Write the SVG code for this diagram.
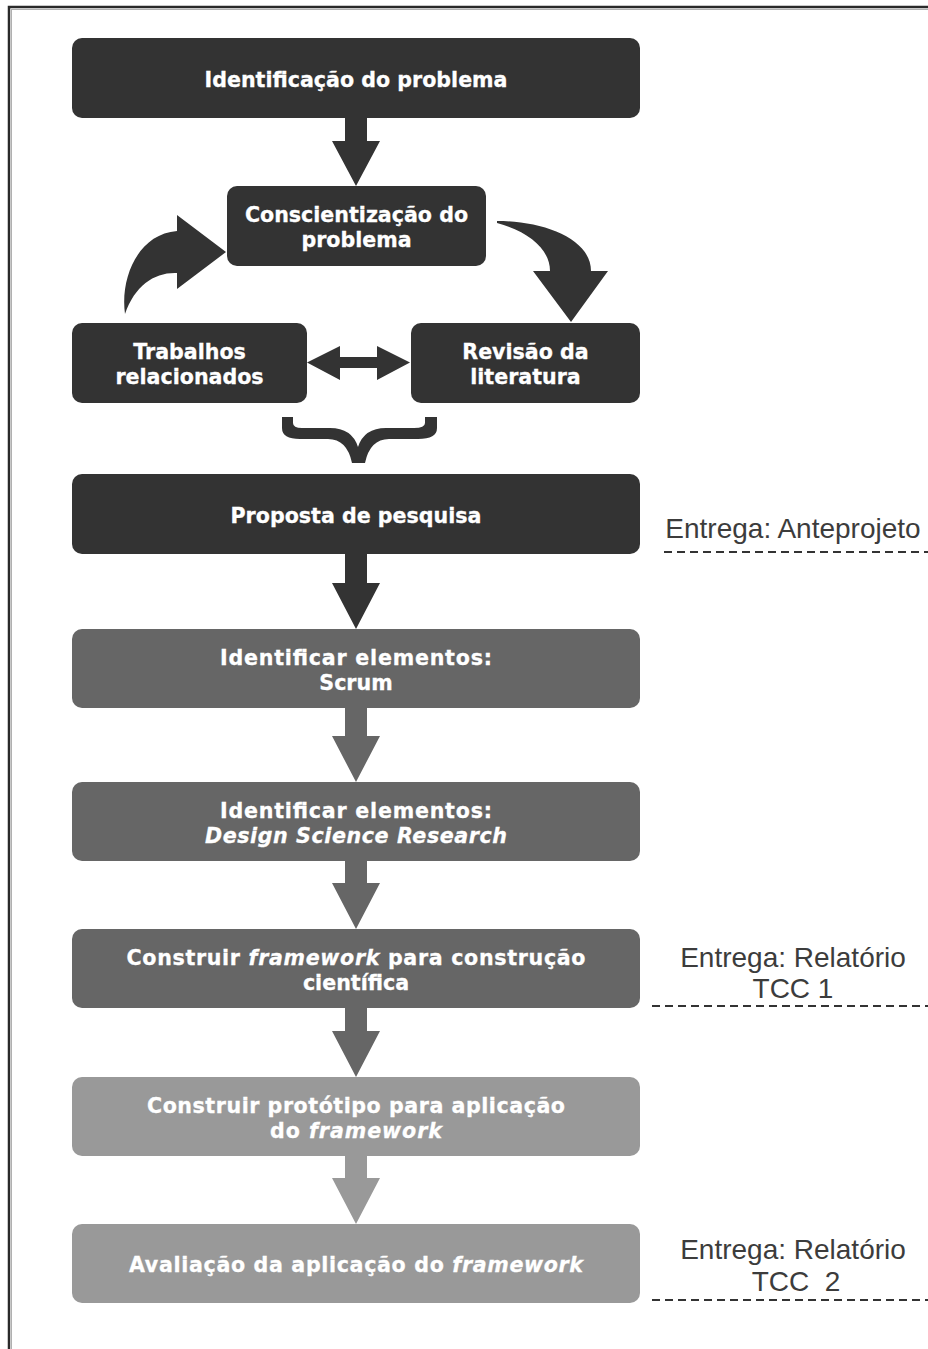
<svg xmlns="http://www.w3.org/2000/svg" width="928" height="1349" viewBox="0 0 928 1349">
<style>
.n1{fill:#333333}
.n2{fill:#666666}
.n3{fill:#999999}
.t{font-family:"DejaVu Sans","Verdana",sans-serif;font-weight:bold;font-size:20.6px;fill:#ffffff;text-anchor:middle;stroke:#ffffff;stroke-width:0.3}
.i{font-style:italic}
.lbl{font-family:"Liberation Sans",Arial,sans-serif;font-size:28px;fill:#3c3c3c;text-anchor:middle;white-space:pre}
.dash{stroke:#333333;stroke-width:2.2;stroke-dasharray:8 5;fill:none}
</style>
<rect x="0" y="0" width="928" height="1349" fill="#ffffff"/>
<g id="frame">
<rect x="9" y="7" width="940" height="1370" fill="none" stroke="#2a2a2a" stroke-width="2.5"/>
<rect x="11.5" y="9.5" width="935" height="1365" fill="none" stroke="#b0b0b0" stroke-width="1"/>
</g>
<g id="connectors">
<path class="n1" d="M345,118 H367 V141 H380 L356,186 L332,141 H345 Z"/>
<path class="n1" d="M125,314 C120,278 138,234 177,231 L177,215 L226,252 L177,289 L177,273 C155,272 135,285 125,314 Z"/>
<path class="n1" d="M497,221 C542,221 591,238 591,271 L608,271 L571,322 L533,271 L550,271 C550,250 530,232 497,223 Z"/>
<path class="n1" d="M307,362.5 L340,346 L340,357 L377,357 L377,346 L410,362.5 L377,380 L377,368 L340,368 L340,380 Z"/>
<path class="n1" d="M282,417 H293 V423 Q293,428 302,428 H330 Q352,428 358,447 Q364,428 386,428 H414 Q425,428 425,423 V417 H437 V428 Q437,439 418,439 H389 Q370,439 365,463 H352 Q347,439 328,439 H300 Q282,439 282,428 Z"/>
<path class="n1" d="M345,554 H367 V583 H380 L356,629 L332,583 H345 Z"/>
<path class="n2" d="M345,708 H367 V736 H380 L356,782 L332,736 H345 Z"/>
<path class="n2" d="M345,861 H367 V883 H380 L356,929 L332,883 H345 Z"/>
<path class="n2" d="M345,1008 H367 V1031 H380 L356,1077 L332,1031 H345 Z"/>
<path class="n3" d="M345,1156 H367 V1178 H380 L356,1224 L332,1178 H345 Z"/>
</g>
<g id="node-identificacao">
<rect class="n1" x="72" y="38" width="568" height="80" rx="10"/>
<text class="t" x="356" y="87">Identificação do problema</text>
</g>
<g id="node-conscientizacao">
<rect class="n1" x="227" y="186" width="259" height="80" rx="10"/>
<text class="t" x="356.5" y="222">Conscientização do</text>
<text class="t" x="356.5" y="247">problema</text>
</g>
<g id="node-trabalhos">
<rect class="n1" x="72" y="323" width="235" height="80" rx="10"/>
<text class="t" x="189.5" y="359">Trabalhos</text>
<text class="t" x="189.5" y="384">relacionados</text>
</g>
<g id="node-revisao">
<rect class="n1" x="411" y="323" width="229" height="80" rx="10"/>
<text class="t" x="525.5" y="359">Revisão da</text>
<text class="t" x="525.5" y="384">literatura</text>
</g>
<g id="node-proposta">
<rect class="n1" x="72" y="474" width="568" height="80" rx="10"/>
<text class="t" x="356" y="523">Proposta de pesquisa</text>
</g>
<g id="node-scrum">
<rect class="n2" x="72" y="629" width="568" height="79" rx="10"/>
<text class="t" x="356" y="665" textLength="272">Identificar elementos:</text>
<text class="t" x="356" y="690">Scrum</text>
</g>
<g id="node-dsr">
<rect class="n2" x="72" y="782" width="568" height="79" rx="10"/>
<text class="t" x="356" y="818" textLength="272">Identificar elementos:</text>
<text class="t i" x="356" y="843" textLength="302">Design Science Research</text>
</g>
<g id="node-framework">
<rect class="n2" x="72" y="929" width="568" height="79" rx="10"/>
<text class="t" x="356" y="965" textLength="459">Construir <tspan class="i">framework</tspan> para construção</text>
<text class="t" x="356" y="990">científica</text>
</g>
<g id="node-prototipo">
<rect class="n3" x="72" y="1077" width="568" height="79" rx="10"/>
<text class="t" x="356" y="1113" textLength="418">Construir protótipo para aplicação</text>
<text class="t" x="356" y="1138" textLength="172">do <tspan class="i">framework</tspan></text>
</g>
<g id="node-avaliacao">
<rect class="n3" x="72" y="1224" width="568" height="79" rx="10"/>
<text class="t" x="356" y="1272" textLength="454">Avaliação da aplicação do <tspan class="i">framework</tspan></text>
</g>
<g id="label-anteprojeto">
<text class="lbl" x="793" y="538">Entrega: Anteprojeto</text>
<line class="dash" x1="664" y1="552" x2="928" y2="552"/>
</g>
<g id="label-tcc1">
<text class="lbl" x="793" y="966.5">Entrega: Relatório</text>
<text class="lbl" x="793" y="998">TCC 1</text>
<line class="dash" x1="652" y1="1006" x2="928" y2="1006"/>
</g>
<g id="label-tcc2">
<text class="lbl" x="793" y="1259">Entrega: Relatório</text>
<text class="lbl" x="796" y="1291">TCC  2</text>
<line class="dash" x1="652" y1="1300" x2="928" y2="1300"/>
</g>
</svg>
